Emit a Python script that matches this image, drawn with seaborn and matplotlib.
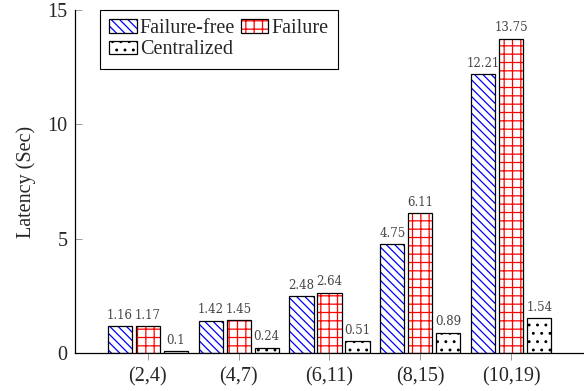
import matplotlib
matplotlib.use("Agg")
import pandas as pd
import matplotlib.pyplot as plt
import seaborn as sns
from matplotlib.patches import Patch
from matplotlib.legend_handler import HandlerTuple

# Data
groups = ["(2,4)", "(4,7)", "(6,11)", "(8,15)", "(10,19)"]
series = ["Failure-free", "Failure", "Centralized"]
failure_free = [1.16, 1.42, 2.48, 4.75, 12.21]
failure = [1.17, 1.45, 2.64, 6.11, 13.75]
centralized = [0.1, 0.24, 0.51, 0.89, 1.54]

hatch_colors = ["blue", "red", "black"]
hatches = ["\\\\\\\\", "++", ".."]

df = pd.DataFrame({
    "group": groups * 3,
    "series": [s for s in series for _ in groups],
    "latency": failure_free + failure + centralized,
})

sns.set_style("ticks")
plt.rcParams["font.family"] = ["Liberation Serif", "DejaVu Serif"]
plt.rcParams["hatch.linewidth"] = 0.9

fig = plt.figure(figsize=(5.84, 3.91), dpi=100)
ax = fig.add_axes([0.1284, 0.0972, 0.8716, 0.8772])

# hatched fill layer
sns.barplot(data=df, x="group", y="latency", hue="series", order=groups,
            hue_order=series, palette=["white"] * 3, saturation=1,
            width=0.924, gap=0.14, linewidth=0, legend=False, ax=ax)
for cont, c, h in zip(ax.containers, hatch_colors, hatches):
    for p in cont:
        p.set_edgecolor(c)
        p.set_hatch(h)
        p.set_linewidth(0)

# black outlines on top
sns.barplot(data=df, x="group", y="latency", hue="series", order=groups,
            hue_order=series, palette=["black"] * 3, fill=False,
            width=0.924, gap=0.14, linewidth=0.9, legend=False, ax=ax)

for cont in ax.containers[3:]:
    ax.bar_label(cont, fmt="%g", padding=3, fontsize=8.5,
                 family="DejaVu Serif", color="#444444")

ax.set_xlim(-0.8, 4.8)
ax.set_ylim(0, 15)
ax.set_yticks([0, 5, 10, 15])
ax.set_xlabel("")
ax.set_ylabel("Latency (Sec)", fontsize=14.5, labelpad=8)
sns.despine(ax=ax)
for s in ["left", "bottom"]:
    ax.spines[s].set_linewidth(0.9)
    ax.spines[s].set_color("black")
ax.tick_params(axis="x", direction="out", length=5, width=0.7,
               color="#999999", labelsize=14.5, pad=5)
ax.tick_params(axis="y", direction="in", length=5, width=0.7,
               color="#999999", labelsize=14.5, pad=5.5)

# legend: order so that two columns read row-wise
handles = []
for c, h in zip(hatch_colors, hatches):
    handles.append((Patch(facecolor="white", edgecolor=c, hatch=h, linewidth=0),
                    Patch(fill=False, edgecolor="black", linewidth=0.9)))
order = [0, 2, 1]
leg = ax.legend([handles[i] for i in order], [series[i] for i in order],
                handler_map={tuple: HandlerTuple(ndivide=1, pad=0)},
                ncol=2, loc="upper left", bbox_to_anchor=(0.05, 1.0),
                fontsize=14.5, frameon=True, fancybox=False, framealpha=1,
                edgecolor="black", borderpad=0.45, handlelength=1.35,
                handleheight=0.62, handletextpad=0.15, columnspacing=0.3,
                labelspacing=0.12, borderaxespad=0)
leg.get_frame().set_linewidth(0.8)

fig.savefig("out.png", dpi=100)
